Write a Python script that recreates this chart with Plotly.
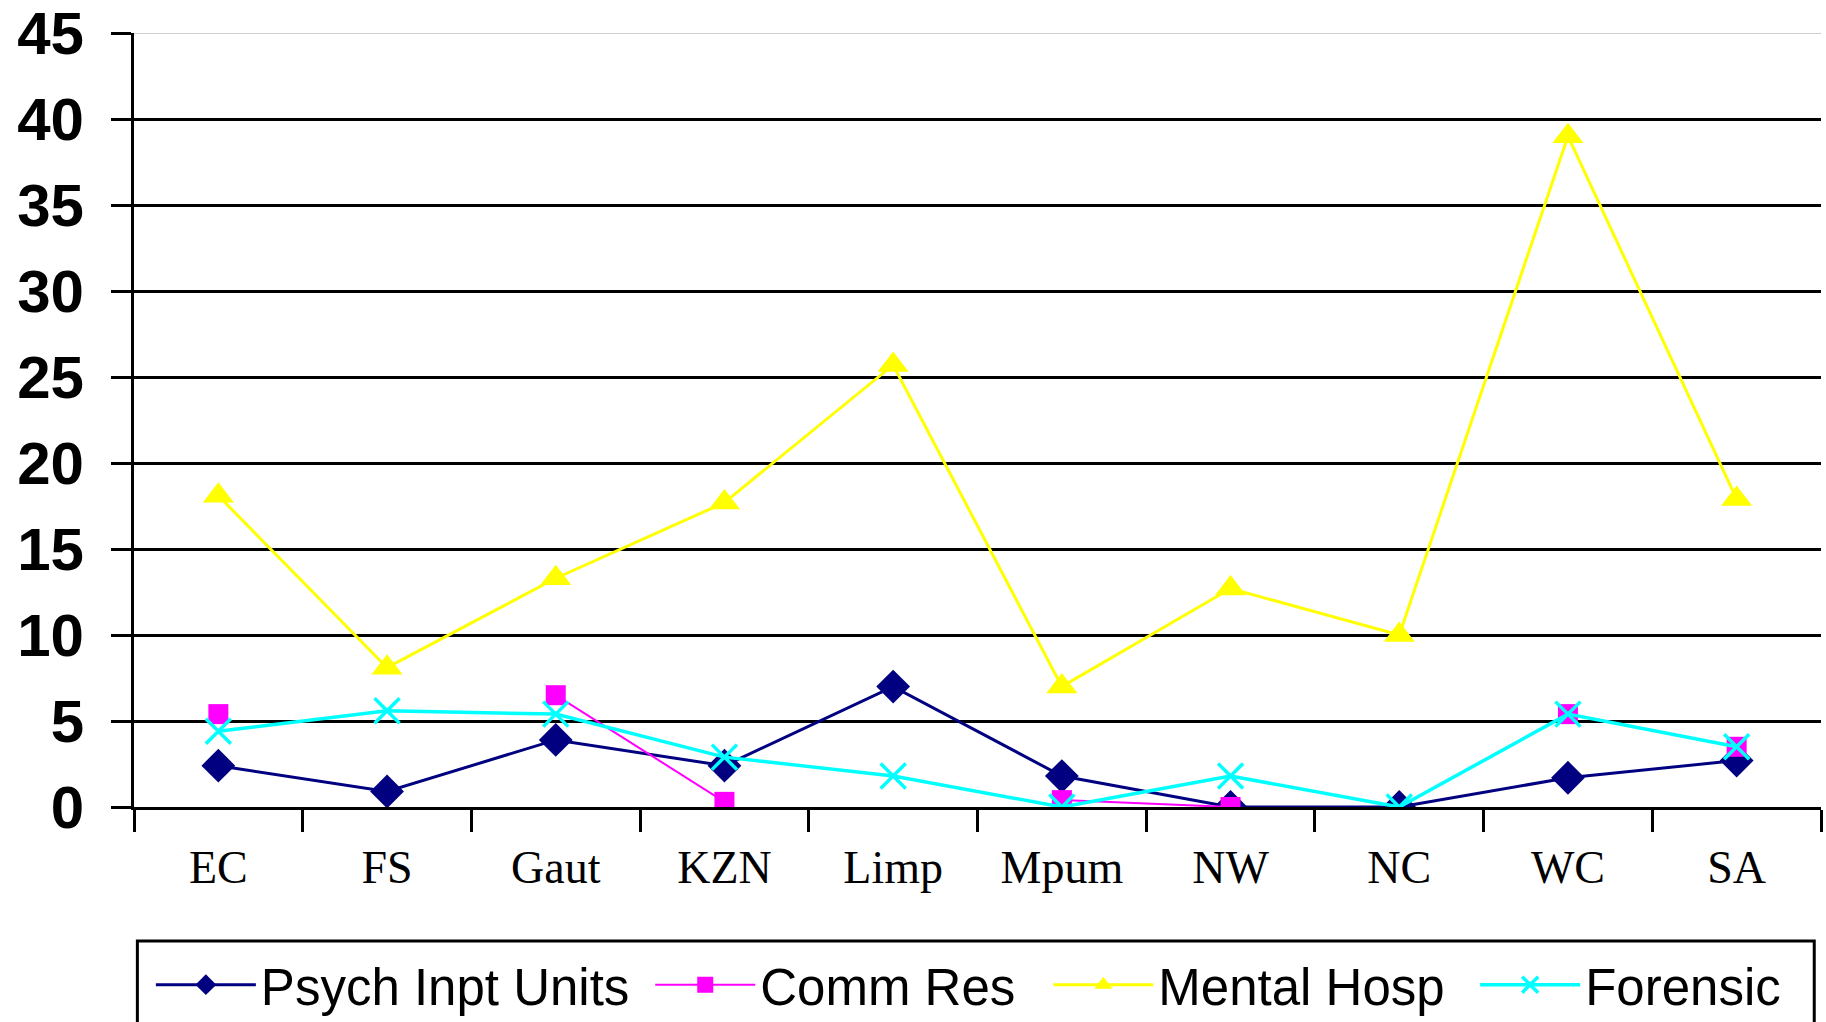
import plotly.graph_objects as go

categories = ["EC", "FS", "Gaut", "KZN", "Limp", "Mpum", "NW", "NC", "WC", "SA"]
psych_inpt_units = [2.4, 0.9, 3.9, 2.4, 7.0, 1.8, 0.0, 0.0, 1.7, 2.7]
comm_res = [5.4, None, 6.5, 0.3, None, 0.4, 0.0, None, 5.4, 3.5]
mental_hosp = [18.1, 8.1, 13.3, 17.7, 25.7, 7.0, 12.7, 10.0, 39.0, 17.9]
forensic = [4.4, 5.6, 5.4, 2.9, 1.8, 0.0, 1.8, 0.0, 5.4, 3.5]
y_ticks = [0, 5, 10, 15, 20, 25, 30, 35, 40, 45]

fig = go.Figure()
fig.add_trace(go.Scatter(x=categories, y=psych_inpt_units, name="Psych Inpt Units",
                         mode="lines+markers", line=dict(color="#000080", width=3),
                         marker=dict(symbol="diamond", size=26, color="#000080"),
                         legend="legend"))
fig.add_trace(go.Scatter(x=categories, y=comm_res, name="Comm Res",
                         mode="lines+markers", line=dict(color="#FF00FF", width=2),
                         marker=dict(symbol="square", size=20, color="#FF00FF"),
                         legend="legend2"))
fig.add_trace(go.Scatter(x=categories, y=mental_hosp, name="Mental Hosp",
                         mode="lines+markers", line=dict(color="#FFFF00", width=3),
                         marker=dict(symbol="triangle-up", size=27, color="#FFFF00"),
                         legend="legend3"))
fig.add_trace(go.Scatter(x=categories, y=forensic, name="Forensic",
                         mode="lines+markers", line=dict(color="#00FFFF", width=3.5),
                         marker=dict(symbol="x-thin-open", size=25,
                                     line=dict(color="#00FFFF", width=3.5)),
                         legend="legend4"))

legend_font = dict(family="Liberation Sans, Arial", size=51, color="black")


def legend_at(xpos):
    return dict(orientation="h", x=xpos, y=-0.23, xanchor="left", yanchor="middle",
                borderwidth=0, bgcolor="rgba(0,0,0,0)", font=legend_font, itemwidth=100)


fig.update_layout(
    width=1826, height=1022,
    margin=dict(l=134, r=5, t=33, b=215, autoexpand=False),
    paper_bgcolor="white", plot_bgcolor="white",
    showlegend=True,
    legend=legend_at(0.010),
    legend2=legend_at(0.306),
    legend3=legend_at(0.542),
    legend4=legend_at(0.795),
    xaxis=dict(type="category", tickson="boundaries", ticks="outside", ticklen=22,
               tickwidth=3, tickcolor="black", showline=True, linecolor="black",
               linewidth=3, showgrid=False, range=[-0.5, 9.5], automargin=False,
               tickfont=dict(family="Liberation Serif, Times New Roman", size=46, color="black"),
               ticklabelstandoff=18),
    yaxis=dict(range=[0, 45], tickvals=y_ticks, ticks="outside", ticklen=20, tickwidth=3,
               tickcolor="black", showline=True, linecolor="black", linewidth=3,
               showgrid=True, gridcolor="black", gridwidth=3, zeroline=False,
               automargin=False, ticklabeloverflow="allow",
               tickfont=dict(family="Liberation Sans, Arial", size=60, color="black",
                             weight="bold"),
               ticklabelstandoff=15),
    shapes=[
        dict(type="line", xref="paper", yref="y", x0=0, x1=1, y0=45, y1=45,
             line=dict(color="#c0c0c0", width=1.5), layer="above"),
        dict(type="rect", xref="paper", yref="paper", x0=0.002, x1=0.996,
             y0=-0.173, y1=-0.32, line=dict(color="black", width=3),
             fillcolor="rgba(0,0,0,0)", layer="below"),
    ],
)

fig.write_html("out.html", config={"displayModeBar": False},
               post_script="document.body.style.margin='0px';")
